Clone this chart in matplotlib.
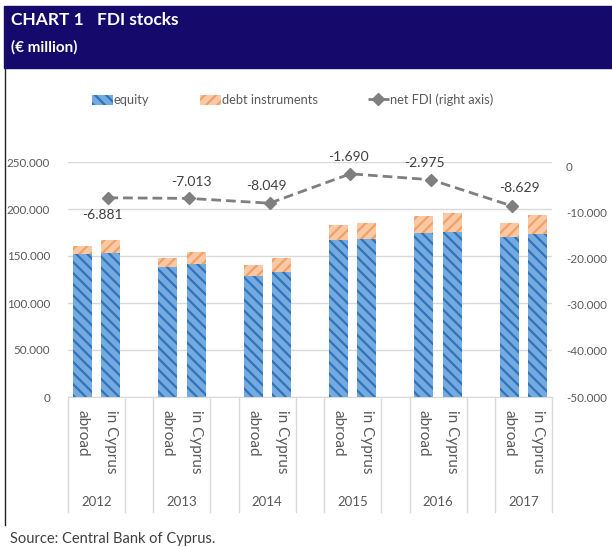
import matplotlib
matplotlib.use("Agg")
import matplotlib.pyplot as plt
import matplotlib.transforms as mtransforms
from matplotlib.patches import Rectangle
from matplotlib.lines import Line2D

# ============================================================
# Data (EUR million)
# ============================================================

years = ["2012", "2013", "2014", "2015", "2016", "2017"]
sides = ["abroad", "in Cyprus"]

equity_abroad = [152000, 138600, 128700, 167000, 174800, 170000]
equity_cyprus = [153000, 141500, 133000, 167700, 175900, 173400]
debt_abroad = [8600, 9000, 11700, 16000, 18200, 15000]
debt_cyprus = [14000, 13000, 14900, 17300, 20100, 20600]
net_fdi = [-6881, -7013, -8049, -1690, -2975, -8629]

left_ticks = [0, 50000, 100000, 150000, 200000, 250000]
right_ticks = [-50000, -40000, -30000, -20000, -10000, 0]

# label offsets for net FDI values (pixels, as placed in the original)
label_offsets = [(-6, -17), (2, 16), (-3, 17), (-2, 17), (-7, 17), (8, 18)]

plt.rcParams["font.family"] = ["Lato", "DejaVu Sans"]
plt.rcParams["hatch.linewidth"] = 1.6

W, H = 612, 547
fig = plt.figure(figsize=(W / 100, H / 100), dpi=100)


def fx(px):
    return px / W


def fy(py):
    return 1 - py / H


def dotted(v):
    return f"{v:,}".replace(",", ".")


# ============================================================
# Header band + frame
# ============================================================

fig.patches.append(Rectangle((fx(4), fy(68)), 1 - fx(4), fy(6) - fy(68),
                             transform=fig.transFigure, color="#150A6C", zorder=0))
fig.lines.append(Line2D([fx(5), fx(5)], [fy(68), fy(525)], transform=fig.transFigure,
                        color="#222222", lw=1.0))
fig.text(fx(11), fy(20), "CHART 1", color="white", fontsize=12.5, fontweight="bold",
         va="center", ha="left")
fig.text(fx(97), fy(20), "FDI stocks", color="white", fontsize=12.5, fontweight="bold",
         va="center", ha="left")
fig.text(fx(11), fy(47), "(€ million)", color="white", fontsize=11, fontweight="bold",
         va="center", ha="left")
fig.text(fx(10), fy(539), "Source: Central Bank of Cyprus.", color="#404040",
         fontsize=10.5, va="center", ha="left")

# ============================================================
# Bars
# ============================================================

pos = [fx(68), fy(397), fx(552) - fx(68), fy(162) - fy(397)]
ax = fig.add_axes(pos)

x_abroad = [3 * i for i in range(len(years))]
x_cyprus = [3 * i + 1 for i in range(len(years))]
xs = x_abroad + x_cyprus
eq = equity_abroad + equity_cyprus
dt = debt_abroad + debt_cyprus

bw = 0.67
b_eq = ax.bar(xs, eq, width=bw, color="#74AADF", edgecolor="#2F73BA", linewidth=0,
              hatch="\\\\\\", zorder=2, label="equity")
b_dt = ax.bar(xs, dt, bottom=eq, width=bw, color="#F9C8A4", edgecolor="#F2A066",
              linewidth=0, hatch="///", zorder=2, label="debt instruments")

ax.set_xlim(-0.5, 16.5)
ax.set_ylim(0, 250000)
ax.set_yticks(left_ticks)
ax.set_yticklabels([dotted(v) for v in left_ticks])
ax.tick_params(axis="y", length=0, pad=13, labelsize=8.4, labelcolor="#595959")
ax.set_xticks([])
ax.grid(axis="y", color="#D9D9D9", lw=1.0, zorder=0)
for s in ["top", "right", "left"]:
    ax.spines[s].set_visible(False)
ax.spines["bottom"].set_color("#D9D9D9")

# multi-level category axis
trans = mtransforms.blended_transform_factory(ax.transData, ax.transAxes)
ax_h = 397 - 162
y_sep = -(512 - 397) / ax_h
for i in range(len(years)):
    for xb in (3 * i - 0.5, 3 * i + 1.5):
        ax.plot([xb, xb], [0, y_sep], transform=trans, color="#D9D9D9", lw=1.0,
                clip_on=False)
    ax.text(3 * i + 0.5, -(502 - 397) / ax_h, years[i], transform=trans, ha="center",
            va="center", fontsize=9.5, color="#595959")
    for j, lab in enumerate(sides):
        ax.text(3 * i + j, -(410 - 397) / ax_h, lab, transform=trans, ha="center",
                va="top", rotation=-90, fontsize=11, color="#595959")

# ============================================================
# Net FDI line (secondary axis, 6 evenly spaced categories)
# ============================================================

ax2 = fig.add_axes(pos, facecolor="none")
ax2.set_xlim(0, len(years))
ax2.set_ylim(-50000, 866)
x_line = [i + 0.5 for i in range(len(years))]
ln, = ax2.plot(x_line, net_fdi, color="#7F7F7F", lw=2.0, dashes=(3.5, 1.8),
               marker="D", markersize=6, label="net FDI (right axis)", zorder=3)
for xl, v, (dx, dy) in zip(x_line, net_fdi, label_offsets):
    ax2.annotate(dotted(v), (xl, v), xytext=(dx * 0.72, dy * 0.72),
                 textcoords="offset points", ha="center", va="center", fontsize=10,
                 color="#404040", annotation_clip=False)
ax2.yaxis.tick_right()
ax2.set_yticks(right_ticks)
ax2.set_yticklabels([dotted(v) for v in right_ticks])
ax2.tick_params(axis="y", length=0, pad=10, labelsize=8.4, labelcolor="#595959")
for s in ["top", "right", "left", "bottom"]:
    ax2.spines[s].set_visible(False)
ax2.set_xticks([])

# legend
fig.legend(handles=[b_eq, b_dt, ln], loc="center left",
           bbox_to_anchor=(fx(92), fy(100)), ncol=3, frameon=False, fontsize=9.3,
           handlelength=1.6, handleheight=0.85, handletextpad=0.1, columnspacing=3.9,
           borderpad=0, borderaxespad=0, labelcolor="#595959")

fig.savefig("out.png", dpi=100)
